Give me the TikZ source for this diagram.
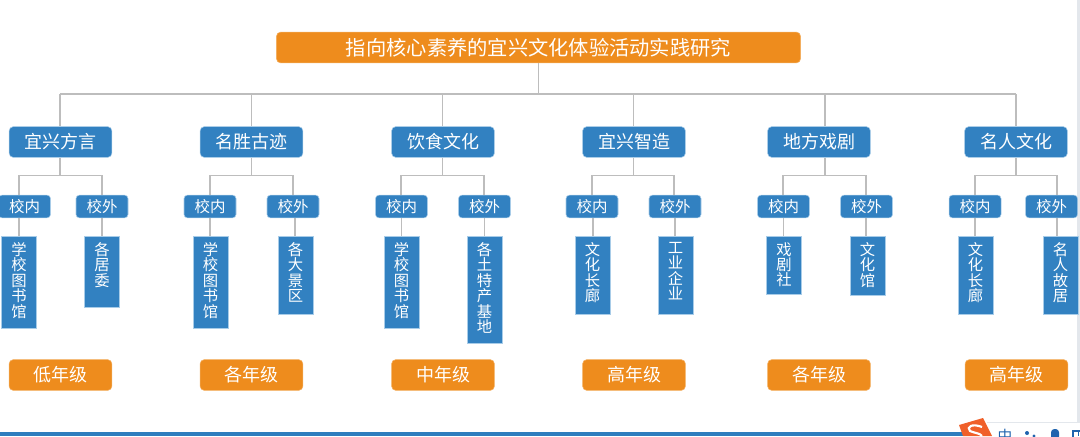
\documentclass[tikz,border=0pt]{standalone}
\usepackage{fontspec}
\setmainfont{Noto Sans CJK SC}
\definecolor{boxblue}{HTML}{3281C1}
\definecolor{boxedge}{HTML}{A8CCE8}
\definecolor{boxorange}{HTML}{EE8C1D}
\definecolor{linegray}{HTML}{BDBDBD}
\definecolor{edgegray}{HTML}{E3E7EC}
\definecolor{barblue}{HTML}{2E7DBE}
\definecolor{iconred}{HTML}{F0602A}
\definecolor{iconblue}{HTML}{1F63AE}
\begin{document}
\begin{tikzpicture}[x=0.75pt,y=-0.75pt,
        TitleNode/.style={rectangle,rounded corners=3pt,fill=boxorange,draw=boxorange!70,text=white,minimum width=393pt,minimum height=23pt,inner sep=0pt,font=\fontsize{15.2}{16}\selectfont},
        CatNode/.style={rectangle,rounded corners=3pt,fill=boxblue,draw=boxedge,text=white,minimum width=77pt,minimum height=23pt,inner sep=0pt,font=\fontsize{13.5}{13.5}\selectfont},
        GradeNode/.style={CatNode,fill=boxorange,draw=boxorange!70},
        SubNode/.style={CatNode,rounded corners=2.5pt,minimum width=39pt,minimum height=17pt,font=\fontsize{11.6}{12}\selectfont},
        LeafNode/.style={rectangle,fill=boxblue,draw=boxedge,text=white,inner sep=0pt,anchor=north,font=\fontsize{11.5}{11.6}\selectfont},
        TreeLine/.style={draw=linegray,line width=1.2pt}]

        % 底部蓝条和窗口边线
        \useasboundingbox (0,0) rectangle (1080,436);
        \clip (0,0) rectangle (1080,436);
        \fill[barblue] (0,432) rectangle (975,436);
        \fill[edgegray] (1077,0) rectangle (1080,423);
        \fill[edgegray] (987,421.5) rectangle (1080,423);

        % 总标题
        \node[TitleNode] (title) at (538.5,47.5) {指向核心素养的宜兴文化体验活动实践研究};
        \coordinate (bus_0) at (538.5,94);

        % 六个主题结点和年级结点
        \foreach \i/\cx/\bx/\gx/\name/\grade in {
            1/60.5/60/60.5/宜兴方言/低年级,
            2/251.5/251.5/251.5/名胜古迹/各年级,
            3/443/442.5/443/饮食文化/中年级,
            4/634/633.5/634/宜兴智造/高年级,
            5/819/825/819/地方戏剧/各年级,
            6/1016/1016/1016.5/名人文化/高年级}{
            \node[CatNode] (cat_\i) at (\cx,142) {\name};
            \node[GradeNode] (grade_\i) at (\gx,375) {\grade};
            \coordinate (bus_\i) at (\bx,94);
            \coordinate (sbus_\i) at (\bx,175.5);
            \draw[TreeLine] (bus_\i) -- (bus_\i |- cat_\i.north);
            \draw[TreeLine] (bus_\i |- cat_\i.south) -- (sbus_\i);
        }
        \draw[TreeLine] (title.south) -- (bus_0);
        \draw[TreeLine] (bus_1) -- (bus_6);

        % 校内校外结点和下面的竖排地点
        \foreach \x/\i/\sx/\bx/\lx/\lc/\bot/\lab/\txt in {
            1/1/24.5/19/19/19/328/校内/学\\校\\图\\书\\馆,
            2/1/102/102/102/102/307/校外/各\\居\\委,
            3/2/210/210/210.5/210/328/校内/学\\校\\图\\书\\馆,
            4/2/293/293/295.5/295/314/校外/各\\大\\景\\区,
            5/3/401.5/401/401.5/401.5/328/校内/学\\校\\图\\书\\馆,
            6/3/484.5/484/484.5/484.5/343/校外/各\\土\\特\\产\\基\\地,
            7/4/592/592/592.5/593/314/校内/文\\化\\长\\廊,
            8/4/675/674/675.5/675/314/校外/工\\业\\企\\业,
            9/5/783.5/783/784/783.5/294/校内/戏\\剧\\社,
            10/5/866.5/866/867.5/866/295/校外/文\\化\\馆,
            11/6/975/975/975.5/975/314/校内/文\\化\\长\\廊,
            12/6/1051.5/1057/1060.5/1057/314/校外/名\\人\\故\\居}{
            \pgfmathsetmacro{\lh}{(\bot-236)*0.75}
            \node[SubNode] (sub_\x) at (\sx,206.5) {\lab};
            \node[LeafNode] (leaf_\x) at (\lx,236) {\parbox[c][\lh pt][t]{26pt}{\centering\baselineskip=11.6pt\vspace*{4.5pt}\txt}};
            \draw[TreeLine] (\lc,0 |- sub_\x.south) -- (\lc,0 |- leaf_\x.north);
        }
        \draw[TreeLine] (sub_1.north -| 19,0) |- (sbus_1) -| (sub_2.north -| 102,0);
        \draw[TreeLine] (sub_3.north -| 210,0) |- (sbus_2) -| (sub_4.north -| 293,0);
        \draw[TreeLine] (sub_5.north -| 401,0) |- (sbus_3) -| (sub_6.north -| 484,0);
        \draw[TreeLine] (sub_7.north -| 592,0) |- (sbus_4) -| (sub_8.north -| 674,0);
        \draw[TreeLine] (sub_9.north -| 783,0) |- (sbus_5) -| (sub_10.north -| 866,0);
        \draw[TreeLine] (sub_11.north -| 975,0) |- (sbus_6) -| (sub_12.north -| 1057,0);

        % 右下角输入法图标
        \fill[iconred] (959,425) -- (983,418) -- (992,436) -- (963,436) -- cycle;
        \draw[white,line width=1.6pt] (982,427) .. controls (972,423) and (966,427) .. (970,431) .. controls (974,433) and (980,433) .. (982,436);
        \node[text=iconblue,font=\fontsize{11}{11}\selectfont,inner sep=0pt] (ime_zh) at (1005,436) {中};
        \fill[iconblue] (1027,433) circle (2);
        \fill[iconblue] (1034,436) circle (1.6);
        \fill[iconblue,rounded corners=2.5pt] (1051,429) rectangle (1059,440);
        \draw[iconblue,line width=0.8pt] (1073,431) rectangle (1084,444) (1078.5,431) -- (1078.5,436);
\end{tikzpicture}
\end{document}
